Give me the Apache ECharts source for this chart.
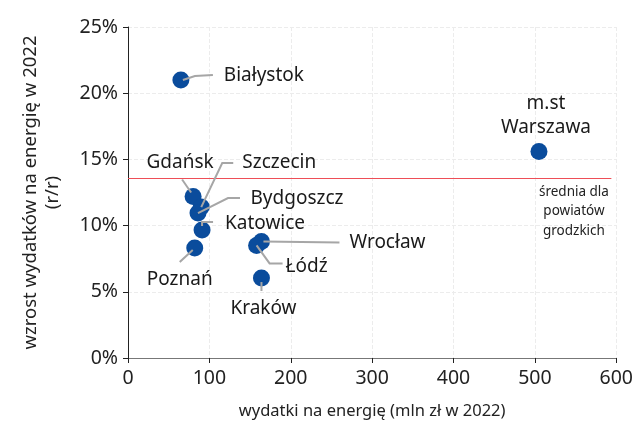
<!DOCTYPE html>
<html><head><meta charset="utf-8">
<script src="https://cdn.jsdelivr.net/npm/echarts@6/dist/echarts.min.js"></script>
<style>html,body{margin:0;padding:0;background:#fff}#c{width:636px;height:429px}</style>
</head><body><div id="c"></div>
<script>
const cities = ['Białystok','m.st\nWarszawa','Gdańsk','Szczecin','Bydgoszcz','Katowice','Poznań','Wrocław','Łódź','Kraków'];
const spending = [65, 505, 80, 90, 86, 91, 82, 164, 158, 164];
const growth = [0.210, 0.156, 0.122, 0.114, 0.1095, 0.0967, 0.083, 0.088, 0.085, 0.0604];
const averageGrowth = 0.136;
const xTicks = [0, 100, 200, 300, 400, 500, 600];
const yTicks = [0, 0.05, 0.10, 0.15, 0.20, 0.25];

// label offsets (px) from each point and leader-line bends (px, relative to point)
const labelOffsets = {
  'Białystok':[83,-4], 'm.st\nWarszawa':[7,-36], 'Gdańsk':[-13,-34], 'Szczecin':[78,-44],
  'Bydgoszcz':[99,-14], 'Katowice':[63,-6], 'Poznań':[-15,31], 'Wrocław':[126,1],
  'Łódź':[50,21], 'Kraków':[2,31]
};
const leaders = {
  'Białystok':[[2,0],[14,-4],[32,-5]],
  'Gdańsk':[[-2,-4],[-11,-17]],
  'Szczecin':[[0,0],[21,-44],[32,-44]],
  'Bydgoszcz':[[0,0],[30,-15],[42,-15]],
  'Katowice':[[0,-4],[0,-8],[11,-8]],
  'Poznań':[[-2,2],[-15,14]],
  'Wrocław':[[2,0],[78,1]],
  'Łódź':[[0,0],[13,18],[26,18]],
  'Kraków':[[0,4],[0,13]]
};
const FONT = 'Noto Sans';
const chart = echarts.init(document.getElementById('c'));
const data = cities.map((n,i)=>({name:n, value:[spending[i], growth[i]]}));
chart.setOption({
  animation:false,
  grid:{left:128, right:19, top:27, bottom:71},
  xAxis:{type:'value', min:xTicks[0], max:xTicks[xTicks.length-1], interval:100,
    name:'wydatki na energię (mln zł w 2022)', nameLocation:'middle', nameGap:45,
    nameTextStyle:{fontFamily:FONT, fontSize:16.5, color:'#222'},
    axisLine:{show:true, onZero:false, lineStyle:{color:'#777'}},
    axisTick:{show:true, length:5, lineStyle:{color:'#222'}},
    axisLabel:{fontFamily:FONT, fontSize:19.5, color:'#222', margin:10},
    splitLine:{show:true, lineStyle:{color:'#ececec', type:'dashed'}}},
  yAxis:{type:'value', min:yTicks[0], max:yTicks[yTicks.length-1], interval:0.05,
    name:'wzrost wydatków na energię w 2022\n(r/r)', nameLocation:'middle', nameGap:64,
    nameTextStyle:{fontFamily:FONT, fontSize:18.5, color:'#222', lineHeight:22},
    axisLine:{show:true, lineStyle:{color:'#222'}},
    axisTick:{show:true, length:5, lineStyle:{color:'#222'}},
    axisLabel:{fontFamily:FONT, fontSize:19.5, color:'#222', margin:10,
      formatter:v=>Math.round(v*100)+'%'},
    splitLine:{show:true, lineStyle:{color:'#ececec', type:'dashed'}}},
  series:[{
    type:'scatter', symbolSize:17, itemStyle:{color:'#0a4c9c', opacity:1}, z:3,
    data:data,
    label:{show:true, position:'inside', formatter:p=>p.name,
      fontFamily:FONT, fontSize:19, color:'#1a1a1a', lineHeight:24},
    labelLayout:function(p){
      const o = labelOffsets[cities[p.dataIndex]];
      return {dx:o[0], dy:o[1]};
    },
    markLine:{silent:true, symbol:'none', precision:4,
      lineStyle:{color:'#ee4e57', width:1, type:'solid'},
      label:{show:false}, data:[[{coord:[xTicks[0], averageGrowth]},{coord:[594, averageGrowth]}]]},
    markPoint:{silent:true, symbol:'circle', symbolSize:0,
      data:[{coord:[548, averageGrowth], label:{show:true, position:'bottom', distance:4,
        formatter:'średnia dla\npowiatów\ngrodzkich', fontFamily:FONT, fontSize:13.5, lineHeight:19.5,
        color:'#222', align:'center'}}]}
  }]
});
// leader lines anchored to each data point's pixel position
const graphics = [];
cities.forEach((n,i)=>{
  if (!leaders[n]) return;
  const c = chart.convertToPixel({seriesIndex:0}, [spending[i], growth[i]]);
  graphics.push({type:'polyline', z:100, silent:true,
    shape:{points: leaders[n].map(q=>[c[0]+q[0], c[1]+q[1]])},
    style:{stroke:'#a6a6a6', lineWidth:2, fill:null}});
});
chart.setOption({graphic:graphics});
</script></body></html>
